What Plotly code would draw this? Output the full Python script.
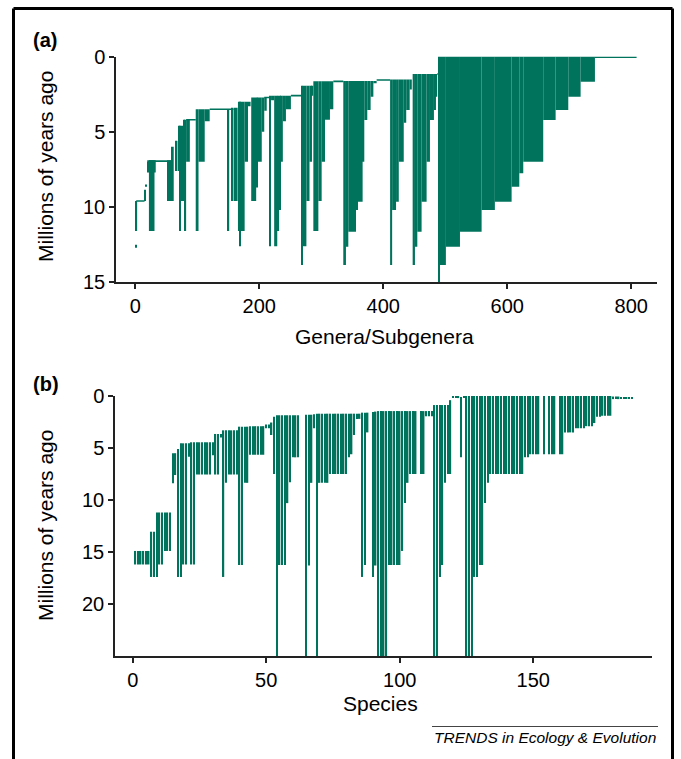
import plotly.graph_objects as go

# ---------------- Panel (a): genera/subgenera, clade blocks ----------------
# each block: genera index range [a_start, a_end], from age a_top down to a_bottom (Myr)
a_start = [0, 1, 14.3, 17, 19.3, 22, 22, 52, 55, 59, 65, 69, 71, 73, 77, 79, 82,
           97.5, 102, 112, 149.5, 155, 158.5, 165.6, 168, 176.4, 181.8,
           187, 195, 197, 204, 208, 215.7, 219, 224, 229, 232, 235, 238, 243,
           268.4, 270, 276, 281, 285, 287.2, 295.3, 300.6, 306, 314,
           335.5, 339.8, 343.6, 356, 358.6, 366.7, 369.4, 374.2, 379.6, 384,
           411, 414.3, 420.6, 425, 433, 437, 442.6,
           447.4, 451.1, 454.9, 461.8, 469.9, 475.3, 481.7, 485,
           489, 491.4, 501, 523.7, 558.6, 580, 607, 619.4, 625.8, 658, 678, 698.4, 718.3]
a_end = [1.5, 3, 16, 18.5, 21.6, 31, 33, 53.5, 56.5, 62, 68, 71, 73, 77, 79, 82, 88,
         102, 112, 120, 151.5, 157, 165, 176.4, 169.2, 181.8, 186,
         195, 197, 204, 208, 212, 218.9, 224, 229, 232, 235, 238, 243, 251,
         270, 276, 281, 285, 287, 295.3, 300.6, 306, 314, 319.4,
         339.8, 343.6, 356, 358.6, 366.7, 369.4, 374.2, 379.6, 384, 389.3,
         414.3, 420.6, 425, 433, 437, 442.6, 446,
         451.1, 454.9, 461.8, 469.9, 475.3, 481.7, 485, 487,
         490.5, 501, 523.7, 558.6, 580, 607, 619.4, 625.8, 658, 678, 698.4, 718.3, 741.4]
a_top = [12.5, 9.6, 8.85, 8.5, 7.0, 6.9, 6.9, 6.9, 6.9, 6.0, 5.6, 4.6, 4.6, 4.6, 4.2, 4.2, 4.2,
         3.5, 3.5, 3.5, 3.5, 3.4, 3.4, 3.0, 3.0, 3.0, 3.0,
         2.72, 2.72, 2.72, 2.72, 2.72, 2.6, 2.6, 2.6, 2.6, 2.6, 2.6, 2.6, 2.6,
         1.94, 1.94, 1.94, 1.94, 1.94, 1.65, 1.65, 1.65, 1.65, 1.65,
         1.63, 1.63, 1.63, 1.63, 1.63, 1.63, 1.63, 1.63, 1.63, 1.63,
         1.52, 1.52, 1.52, 1.52, 1.52, 1.52, 1.52,
         1.16, 1.16, 1.16, 1.16, 1.16, 1.16, 1.16, 1.16,
         0.0, 0.0, 0.0, 0.0, 0.0, 0.0, 0.0, 0.0, 0.0, 0.0, 0.0, 0.0, 0.0]
a_bottom = [12.7, 11.6, 9.6, 8.65, 7.7, 11.6, 7.7, 9.6, 9.6, 9.6, 7.6, 7.6, 11.6, 9.6, 9.6, 11.6, 7.0,
            11.6, 7.0, 4.3, 11.6, 9.6, 9.6, 11.6, 12.6, 7.0, 3.3,
            9.6, 8.7, 7.0, 5.0, 3.6, 12.6, 2.9, 12.6, 11.6, 10.2, 7.0, 4.3, 3.5,
            13.85, 12.6, 9.6, 7.0, 2.6, 11.6, 9.6, 7.0, 4.2, 3.5,
            13.85, 12.64, 11.64, 10.2, 9.65, 7.0, 4.22, 3.56, 2.67, 1.78,
            13.85, 10.2, 9.65, 7.0, 4.4, 3.56, 2.2,
            13.85, 12.64, 11.64, 9.65, 7.0, 4.22, 3.56, 2.67,
            15.0, 13.85, 12.64, 11.64, 10.2, 9.65, 8.65, 7.76, 7.0, 4.22, 3.56, 2.67, 1.67]

# backbone (horizontal connecting branches)
bb_start = [1.5, 19.3, 82, 120, 208, 251, 319.4, 389.3, 487, 741.4]
bb_end = [15, 59, 97.5, 158.5, 216, 268.4, 335.5, 411, 491, 808.6]
bb_age = [9.6, 6.95, 4.2, 3.5, 2.72, 2.6, 1.65, 1.56, 1.16, 0.05]

# ---------------- Panel (b): species, run-length groups ----------------
# run count, top age, bottom age (None = no line at those positions)
b_count = [6, 2, 1, 2, 3, 1, 1, 1, 1, 2, 1, 2, 6, 1, 2, 1, 1, 1, 4, 2, 2, 6, 2, 1, 1, 1,
           3, 1, 1, 3, 2, 1, 1, 1, 1, 1, 4, 7, 1, 1, 1, 2, 1, 1, 1, 1, 1, 1,
           4, 5, 1, 1, 1, 3, 1, 2, 3, 2, 1, 1, 1, 1, 1, 3, 1, 1, 3, 2, 2, 1, 1, 13,
           2, 4, 1, 1, 1, 3, 1, 2, 4, 4, 3, 1, 2, 4, 3, 5]
b_top = [14.9, 13.05, 11.2, 11.2, 11.2, 5.5, 5.5, 5.1, 4.55, 4.55, 4.55, 4.45, 4.45, 4.45, 3.65, 3.65,
         3.3, 3.3, 3.3, 2.95, 2.95, 2.9, 2.75, 2.55, 2.0, 1.85,
         1.85, 1.85, 1.85, 1.85, None, 1.8, 1.8, 1.8, 1.75, 1.7, 1.7, 1.7, 1.7, 1.7, 1.7, 1.7,
         1.6, 1.6, 1.6, None, 1.55, 1.5,
         1.45, 1.45, 1.45, 1.45, 1.45, 1.45, None, 1.45, 1.45, 0.87, 0.87, 0.87, 0.87, 0.87, 0.4,
         0.05, 0.1, 0.05, 0.0, 0.0, 0.0, 0.0, 0.0, 0.0,
         0.0, 0.0, None, 0.0, None, 0.0, None, 0.0, 0.0, 0.0, 0.0, 0.0, 0.0, 0.0, 0.05, 0.1]
b_bottom = [16.2, 17.4, 17.4, 16.2, 14.9, 8.4, 7.6, 17.4, 17.4, 16.2, 5.85, 16.2, 7.55, 5.7, 7.55, 4.0,
            17.4, 8.35, 7.55, 16.25, 8.35, 5.65, 3.1, 3.75, 7.5, 25,
            16.25, 10.3, 8.3, 5.9, None, 25, 16.3, 8.35, 3.1, 25, 8.35, 7.5, 5.9, 5.6, 3.75, 2.2,
            17.4, 16.25, 3.5, None, 17.4, 16.3,
            25, 16.25, 14.9, 10.3, 8.35, 7.5, None, 7.5, 1.95, 25, 17.4, 16.25, 8.35, 7.5, 7.5,
            0.2, 5.9, 0.2, 25, 17.4, 16.25, 10.3, 8.35, 7.5,
            5.9, 5.6, None, 5.6, None, 5.6, None, 5.6, 3.5, 3.1, 2.9, 2.6, 2.0, 1.9, 0.3, 0.2]

GREEN = "#00735d"
FONT = "Liberation Sans, Arial, Helvetica, sans-serif"
W, H = 681, 759

fig = go.Figure()

# panel (a) blocks
fig.add_trace(go.Bar(
    x=[(s + e) / 2 for s, e in zip(a_start, a_end)],
    width=[e - s for s, e in zip(a_start, a_end)],
    base=a_top,
    y=[b - t for t, b in zip(a_top, a_bottom)],
    marker=dict(color=GREEN, line=dict(width=0)),
    xaxis="x", yaxis="y", hoverinfo="skip"))

bx, by = [], []
for s, e, a in zip(bb_start, bb_end, bb_age):
    bx += [s, e, None]
    by += [a, a, None]
fig.add_trace(go.Scatter(x=bx, y=by, mode="lines", line=dict(color=GREEN, width=1.6),
                         xaxis="x", yaxis="y", hoverinfo="skip"))

# panel (b) species lines
sx, stop, sbot = [], [], []
idx = 1
for c, t, b in zip(b_count, b_top, b_bottom):
    for _ in range(c):
        if t is not None:
            sx.append(idx)
            stop.append(t)
            sbot.append(b)
        idx += 1
fig.add_trace(go.Bar(
    x=sx, base=stop, y=[b - t for t, b in zip(stop, sbot)], width=0.55,
    marker=dict(color=GREEN, line=dict(width=0)),
    xaxis="x2", yaxis="y2", hoverinfo="skip"))

axis_common = dict(showline=True, linecolor="#222", linewidth=1.5, ticks="outside",
                   ticklen=5, tickwidth=1.5, tickcolor="#222", showgrid=False, zeroline=False,
                   automargin=False,
                   tickfont=dict(family=FONT, size=20, color="black"), fixedrange=True)

fig.update_layout(
    width=W, height=H, autosize=False,
    margin=dict(l=0, r=0, t=0, b=0, pad=0, autoexpand=False),
    paper_bgcolor="white", plot_bgcolor="white", showlegend=False, barmode="overlay",
    xaxis=dict(domain=[116 / W, 657 / W], range=[-31.1, 841.5], anchor="y",
               tickvals=[0, 200, 400, 600, 800], **axis_common),
    yaxis=dict(domain=[1 - 282.3 / H, 1 - 56.5 / H], range=[15, 0], anchor="x",
               tickvals=[0, 5, 10, 15], **axis_common),
    xaxis2=dict(domain=[115 / W, 652 / W], range=[-6.63, 194.5], anchor="y2",
                tickvals=[0, 50, 100, 150], **axis_common),
    yaxis2=dict(domain=[1 - 656 / H, 1 - 396 / H], range=[25, 0], anchor="x2",
                tickvals=[0, 5, 10, 15, 20], **axis_common),
)

def ann(text, x, y, size, xanchor="center", angle=0, bold=False, italic=False):
    if bold:
        text = "<b>" + text + "</b>"
    if italic:
        text = "<i>" + text + "</i>"
    fig.add_annotation(text=text, x=x / W, y=1 - y / H, xref="paper", yref="paper",
                       xanchor=xanchor, yanchor="middle", showarrow=False, textangle=angle,
                       font=dict(family=FONT, size=size, color="black"))

ann("(a)", 31, 40, 20, xanchor="left", bold=True)
ann("(b)", 31, 384, 20, xanchor="left", bold=True)
ann("Millions of years ago", 45, 167, 21, angle=-90)
ann("Millions of years ago", 45, 526, 21, angle=-90)
ann("Genera/Subgenera", 385, 337, 21)
ann("Species", 380, 703, 21)
ann("TRENDS in Ecology & Evolution", 658, 737, 15.5, xanchor="right", italic=True)

# frame and footer rule
for x0, y0, x1, y1 in [(13.5, 8.5, 672.5, 8.5), (13.5, 8.5, 13.5, 759), (672.5, 8.5, 672.5, 759)]:
    fig.add_shape(type="line", xref="paper", yref="paper", x0=x0 / W, x1=x1 / W,
                  y0=1 - y0 / H, y1=1 - y1 / H, line=dict(color="black", width=3))
fig.add_shape(type="line", xref="paper", yref="paper", x0=432 / W, x1=658 / W,
              y0=1 - 726.5 / H, y1=1 - 726.5 / H, line=dict(color="#444", width=1))

fig.write_html("out.html",
               config={"displayModeBar": False, "responsive": False},
               post_script="document.body.style.margin='0px';"
                           "document.body.style.padding='0px';"
                           "document.body.style.overflow='hidden';")
